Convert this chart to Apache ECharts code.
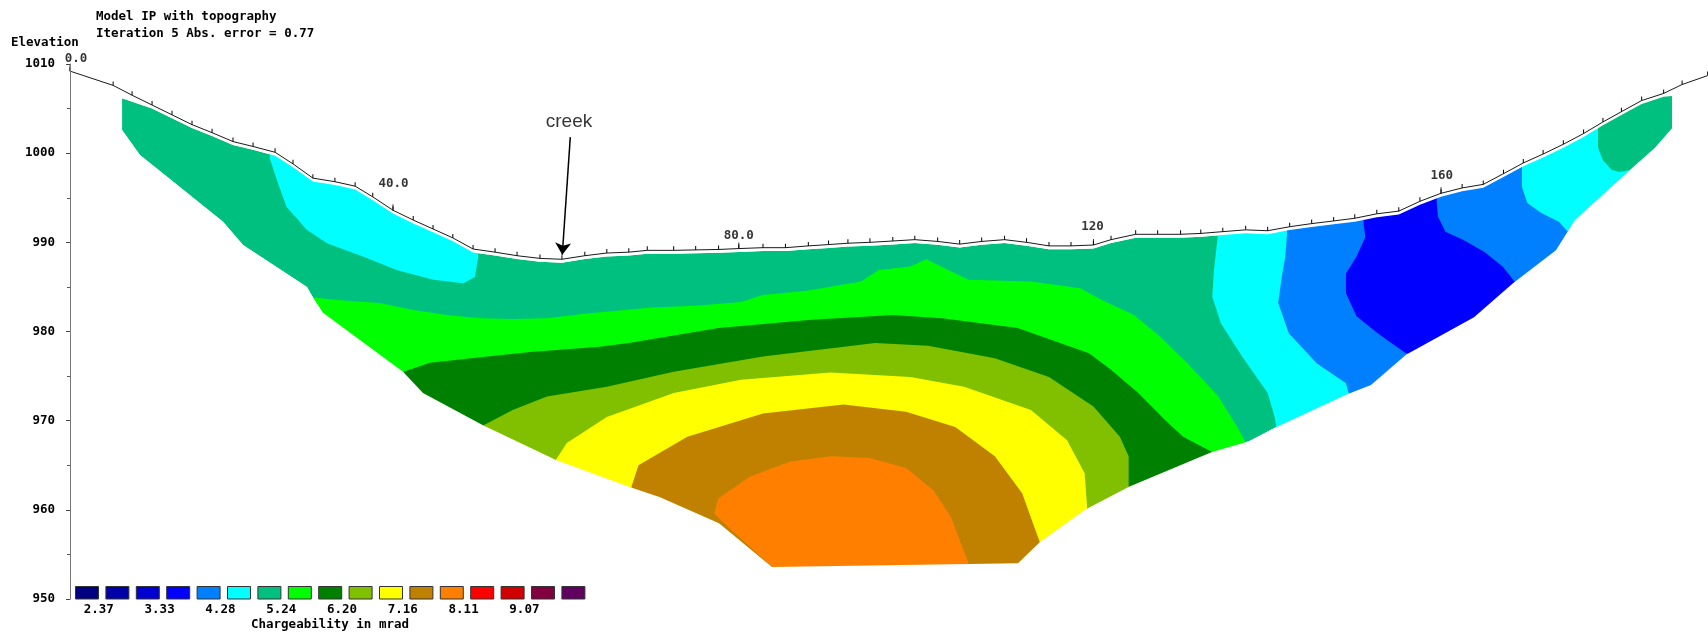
<!DOCTYPE html>
<html>
<head>
<meta charset="utf-8">
<title>Model IP with topography</title>
<script src="https://cdn.jsdelivr.net/npm/echarts@6/dist/echarts.min.js"></script>
<style>
  html, body { margin: 0; padding: 0; background: #fff; }
  #ip-section { width: 1708px; height: 632px; }
</style>
</head>
<body>
<div id="ip-section"></div>
<script>
// surface: horizontal distance (m) / elevation (m)
const topoX = [0, 4.9, 7.05, 9.32, 11.59, 13.86, 16.14, 18.52, 20.8, 23.3,
  25.34, 27.6, 30.1, 32.4, 34.4, 36.7, 39.0, 41.25, 43.5, 45.8,
  48.3, 50.8, 53.4, 55.9, 58.5, 61.0, 63.5, 65.6, 68.6, 71.1, 73.7,
  76.0, 78.75, 81.3, 83.9, 86.2, 88.4, 90.9, 93.5, 96.0, 98.6, 101.1,
  103.6, 106.2, 108.7, 111.25, 113.75, 116.3, 118.3, 121.1, 123.6, 126.2,
  128.5, 131.0, 133.6, 136.1, 138.6, 141.1, 143.6, 146.0, 148.5, 151.0,
  153.4, 155.8, 158.2, 160.6, 162.9, 165.15, 167.4, 169.7, 172.0, 174.2,
  176.3, 178.6, 181.1, 183.2, 186.1]
const topoZ = [1009.2, 1007.6, 1006.5, 1005.4, 1004.3, 1003.2, 1002.3, 1001.3, 1000.75, 1000.1,
  998.8, 997.2, 996.8, 996.3, 995.1, 993.6, 992.5, 991.5, 990.5, 989.25,
  988.9, 988.5, 988.2, 988.1, 988.5, 988.8, 988.9, 989.1, 989.1, 989.15, 989.2,
  989.3, 989.4, 989.4, 989.6, 989.75, 989.9, 990.0, 990.15, 990.3, 990.1, 989.8,
  990.1, 990.3, 990.0, 989.6, 989.6, 989.7, 990.3, 990.9, 990.9, 990.9,
  991.0, 991.2, 991.4, 991.3, 991.75, 992.1, 992.4, 992.7, 993.2, 993.5,
  994.6, 995.5, 996.1, 996.5, 997.7, 998.9, 999.9, 1001.0, 1002.2, 1003.5,
  1004.65, 1005.9, 1006.7, 1007.7, 1008.7]

// labelled electrode distances along the line
const distLabels = ['0.0', '40.0', '80.0', '120', '160']
const distX = [0, 36.7, 76.0, 116.3, 155.8]
const distZ = [1009.2, 993.6, 989.3, 989.7, 995.5]

// lower edge of the inverted model
const bottomX = [5.91, 7.95, 17.39, 19.66, 26.93, 27.61, 28.75, 37.84, 40.11, 46.93,
  55.23, 63.52, 67.05, 73.75, 79.77, 107.73, 110.23, 115.34, 120.34, 129.77,
  133.98, 136.93, 145.0, 147.84, 151.82, 159.55, 163.98, 168.86, 171.02, 177.27,
  180.11, 182.05]
const bottomZ = [1002.6, 999.8, 992.3, 989.7, 985.0, 983.8, 982.1, 975.5, 973.1, 969.5,
  965.6, 962.6, 961.4, 958.5, 953.6, 954.0, 956.4, 960.0, 962.6, 966.5,
  967.7, 969.2, 972.9, 974.0, 977.4, 981.6, 985.4, 989.1, 992.5, 998.1,
  1000.6, 1002.8]

// contour bands [x, elevation]
const cyanLeft = [[22.7, 1000.4], [22.7, 999.4], [23.5, 997.0], [24.6, 994.0], [26.9, 991.4],
  [29.2, 989.9], [33.3, 988.4], [37.1, 986.9], [41.3, 985.8], [44.7, 985.4], [46.0, 986.1],
  [46.4, 988.4], [46.2, 989.7], [42.0, 992.3], [37.5, 994.2], [33.0, 997.0], [29.6, 997.9],
  [26.1, 999.8]]
const greenLight = [[27.6, 983.8], [30.7, 983.5], [35.2, 983.2], [39.0, 982.4], [42.8, 981.85],
  [46.6, 981.5], [50.3, 981.4], [54.2, 981.5], [58.5, 982.0], [66.1, 982.7], [71.1, 982.9],
  [76.25, 983.3], [78.75, 984.1], [83.9, 984.6], [89.9, 985.6], [91.9, 986.9], [95.5, 987.3],
  [97.3, 988.1], [99.55, 987.0], [102.1, 985.8], [109.2, 985.6], [114.8, 984.85], [117.3, 983.5],
  [120.9, 981.85], [123.9, 979.4], [127.0, 976.4], [130.5, 972.7], [132.8, 969.0], [133.9, 967.05],
  [133.9, 952], [27.6, 952]]
const greenDark = [[37.9, 975.5], [40.9, 976.5], [46.6, 977.1], [52.3, 977.7], [60.2, 978.3],
  [63.5, 978.7], [73.7, 980.4], [83.9, 981.3], [93.5, 981.85], [99.1, 981.5], [107.7, 980.4],
  [115.8, 977.55], [118.3, 975.7], [121.4, 973.1], [124.4, 970.1], [126.5, 968.2], [129.8, 966.5],
  [129.8, 952], [37.9, 952]]
const olive = [[47.0, 969.5], [50.3, 971.2], [54.2, 972.7], [61.0, 973.8], [68.6, 975.5],
  [78.75, 977.2], [91.5, 978.7], [97.5, 978.4], [105.1, 977.0], [111.25, 974.9], [116.3, 971.6],
  [119.3, 968.2], [120.3, 966.0], [120.3, 952], [47.0, 952]]
const yellow = [[55.2, 965.6], [56.45, 967.5], [61.0, 970.4], [68.6, 973.1], [76.25, 974.6],
  [86.4, 975.4], [95.5, 974.9], [101.6, 973.8], [109.2, 971.2], [113.3, 967.8], [115.3, 964.1],
  [115.6, 960.0], [115.6, 952], [55.2, 952]]
const brown = [[63.8, 962.6], [64.6, 965.0], [70.15, 968.2], [78.75, 970.8], [87.9, 971.8],
  [95.0, 971.0], [100.6, 969.3], [105.1, 966.0], [108.2, 961.85], [110.2, 956.4], [110.2, 952],
  [63.8, 952]]
const orange = [[79.8, 953.6], [75.2, 957.7], [73.2, 959.6], [73.7, 961.3], [77.25, 963.7],
  [81.8, 965.4], [86.4, 966.0], [90.9, 965.8], [95.0, 964.7], [98.1, 962.2], [100.1, 959.2],
  [102.1, 954.0], [102.1, 952], [79.8, 952]]
const cyanRight = [[130.45, 1012], [130.45, 991.4], [130.4, 990.45], [130.0, 986.9], [129.8, 983.9],
  [130.8, 980.9], [133.2, 977.2], [136.1, 973.1], [136.9, 970.4], [137.1, 969.1], [137.5, 955],
  [185, 955], [185, 1012]]
const blueLight = [[138.3, 992.3], [138.3, 991.0], [138.1, 988.4], [137.7, 986.1], [137.3, 983.2],
  [138.5, 979.8], [141.7, 976.4], [145.0, 974.2], [145.3, 973.1], [146.6, 969.0], [162.5, 980.2],
  [172.7, 989.1], [170.0, 991.4], [169.2, 992.3], [167.2, 993.3], [165.6, 994.4], [165.0, 996.2],
  [165.0, 997.55], [165.0, 999.2]]
const blue = [[147.0, 993.2], [147.0, 992.1], [147.2, 990.6], [146.2, 988.4], [145.0, 986.5],
  [145.0, 984.3], [146.2, 981.7], [148.6, 979.8], [151.8, 977.55], [155.7, 976.8], [165.9, 983.5],
  [164.2, 985.55], [162.8, 987.3], [160.7, 988.95], [158.3, 990.3], [156.3, 991.2], [155.45, 992.9],
  [155.3, 994.6], [155.45, 995.9]]
const tealRight = [[173.64, 1004.8], [173.64, 1002.4], [173.64, 1000.6], [174.2, 999.2],
  [175.2, 998.1], [176.1, 997.9], [177.3, 998.1], [179.55, 997.55], [184.5, 1002.6], [184.5, 1008.2]]

// colour scale (mrad)
const chargeColors = ['#000080', '#0000a8', '#0000d0', '#0000ff', '#0080ff', '#00ffff',
  '#00c080', '#00ff00', '#008000', '#80c000', '#ffff00', '#c08000', '#ff8000',
  '#ff0000', '#d00000', '#800040', '#600060']
const chargeLabels = ['2.37', '3.33', '4.28', '5.24', '6.20', '7.16', '8.11', '9.07']

const XMIN = -1.14
const XMAX = 186.14
const GAP = 0.38 // white band under the surface line
const MONO = '"DejaVu Sans Mono", "Liberation Mono", monospace'

const bottom = bottomX.map((x, i) => [x, bottomZ[i]])
const last = bottom.length - 1
const modelTop = [[5.91, 1006.15]]
topoX.forEach((x, i) => {
  if (x > 9 && x < 181.5) modelTop.push([x, topoZ[i] - GAP])
})
modelTop.push([182.05, 1006.4])

// white masks outside the model (they overlap a little so no seam shows)
const upperMask = [[XMIN, 1013], [XMIN, bottomZ[0] - 1], [bottom[0][0], bottomZ[0] - 1], bottom[0]]
  .concat(modelTop)
  .concat([bottom[last], [bottom[last][0], bottomZ[last] - 1], [XMAX + 2, bottomZ[last] - 1], [XMAX + 2, 1013]])
const lowerMask = [[XMIN, bottomZ[0] + 1], [bottom[0][0] - 0.3, bottomZ[0] + 1]].concat(bottom)
  .concat([[bottom[last][0] + 0.3, bottomZ[last] + 1], [XMAX + 2, bottomZ[last] + 1], [XMAX + 2, 949], [XMIN, 949]])

const shapes = [
  { pts: modelTop.concat(bottom.slice().reverse()), color: chargeColors[6] },
  { pts: cyanLeft, color: chargeColors[5] },
  { pts: greenLight, color: chargeColors[7] },
  { pts: greenDark, color: chargeColors[8] },
  { pts: olive, color: chargeColors[9] },
  { pts: yellow, color: chargeColors[10] },
  { pts: brown, color: chargeColors[11] },
  { pts: orange, color: chargeColors[12] },
  { pts: cyanRight, color: chargeColors[5] },
  { pts: blueLight, color: chargeColors[4] },
  { pts: blue, color: chargeColors[3] },
  { pts: tealRight, color: chargeColors[6] },
  { pts: upperMask, color: '#fff' },
  { pts: lowerMask, color: '#fff' }
]

function txt(text, x, y, align, font) {
  return {
    type: 'text', z: 100, silent: true, x: x, y: y,
    style: {
      text: text, font: font || ('bold 12.5px ' + MONO), fill: '#000',
      align: align, textAlign: align, verticalAlign: 'middle', textVerticalAlign: 'middle'
    }
  }
}

const graphics = [
  txt('Model IP with topography', 96, 17, 'left'),
  txt('Iteration 5 Abs. error = 0.77', 96, 33.5, 'left'),
  txt('Elevation', 11, 43, 'left'),
  txt('Chargeability in mrad', 330, 625, 'center')
]
/** legend boxes under the section */
chargeColors.forEach((c, i) => {
  graphics.push({
    type: 'rect', z: 100, silent: true,
    shape: { x: 75.5 + i * 30.4, y: 586.5, width: 23, height: 12.5 },
    style: { fill: c, stroke: '#333', lineWidth: 1 }
  })
})
chargeLabels.forEach((t, k) => {
  graphics.push(txt(t, 75.1 + 2 * k * 30.4 + 23.7, 610, 'center'))
})

const distOffsets = [[6, -12.5], [0.5, -26.5], [0, -12.5], [-1, -18.6], [0.7, -17.5]]

const chart = echarts.init(document.getElementById('ip-section'))
chart.setOption({
  animation: false,
  grid: { left: 60, right: 0, top: 64, bottom: 33 },
  xAxis: { type: 'value', min: XMIN, max: XMAX, show: false },
  yAxis: {
    type: 'value', min: 950, max: 1010, interval: 10, z: 10,
    axisLine: { show: true, lineStyle: { color: '#777', width: 1 } },
    axisTick: { show: true, length: 4, lineStyle: { color: '#444' } },
    minorTick: { show: true, splitNumber: 2, length: 3, lineStyle: { color: '#555' } },
    axisLabel: {
      color: '#000', fontFamily: MONO, fontWeight: 'bold', fontSize: 12.5, margin: 5,
      formatter: v => String(v)
    },
    splitLine: { show: false },
    minorSplitLine: { show: false }
  },
  graphic: graphics,
  series: [
    {
      type: 'custom',
      coordinateSystem: 'cartesian2d',
      clip: false,
      silent: true,
      z: 1,
      data: shapes.map((s, i) => [s.pts[0][0], s.pts[0][1], i]),
      renderItem: (params, api) => {
        const s = shapes[params.dataIndex]
        return {
          type: 'polygon',
          shape: { points: s.pts.map(p => api.coord(p)) },
          style: { fill: s.color }
        }
      }
    },
    {
      type: 'line',
      z: 3,
      clip: false,
      silent: true,
      data: topoX.map((x, i) => [x, topoZ[i]]),
      lineStyle: { color: '#1a1a1a', width: 1 },
      symbol: 'rect',
      symbolSize: [1, 4],
      symbolOffset: [0, -2],
      showSymbol: true,
      showAllSymbol: true,
      itemStyle: { color: '#000' }
    },
    {
      type: 'scatter',
      z: 4,
      clip: false,
      silent: true,
      symbol: 'rect',
      symbolSize: [1, 6],
      symbolOffset: [0, -3],
      itemStyle: { color: '#000' },
      data: distX.map((x, i) => [x, distZ[i]])
    },
    {
      type: 'scatter',
      z: 4,
      clip: false,
      silent: true,
      symbolSize: 1,
      itemStyle: { color: 'rgba(0,0,0,0)' },
      data: distX.map((x, i) => ({ value: [x, distZ[i]], label: { offset: distOffsets[i] } })),
      label: {
        show: true, position: 'inside', color: '#000',
        fontFamily: MONO, fontWeight: 'bold', fontSize: 12.5,
        formatter: p => distLabels[p.dataIndex]
      }
    },
    {
      type: 'scatter',
      z: 4,
      clip: false,
      silent: true,
      symbolSize: 1,
      itemStyle: { color: 'rgba(0,0,0,0)' },
      data: [[56.7, 1003.5]],
      label: {
        show: true, position: 'inside', color: '#000',
        fontFamily: '"Liberation Sans", Arial, sans-serif', fontSize: 19,
        formatter: 'creek'
      },
      markLine: {
        silent: true,
        symbol: ['none', 'arrow'],
        symbolSize: 12,
        label: { show: false },
        lineStyle: { color: '#000', width: 1.5, type: 'solid' },
        data: [[{ coord: [56.85, 1001.8] }, { coord: [55.94, 988.6] }]]
      }
    }
  ]
})
</script>
</body>
</html>
